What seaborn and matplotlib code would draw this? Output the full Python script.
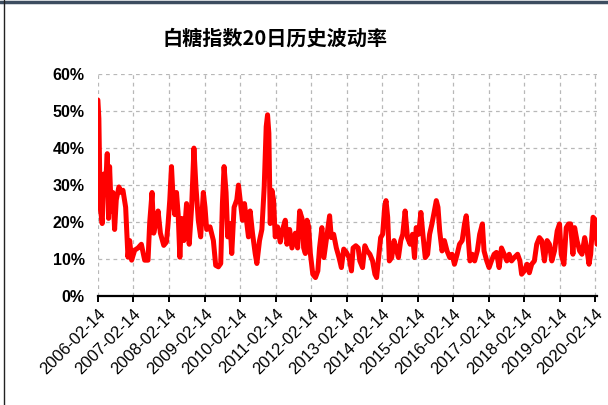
import pandas as pd
import numpy as np
import matplotlib
matplotlib.use("Agg")
import matplotlib.pyplot as plt
from matplotlib.lines import Line2D
import seaborn as sns

# values (decimal year, volatility %)
years = [
    2006.12, 2006.148, 2006.186, 2006.242, 2006.289, 2006.337, 2006.384, 2006.421, 2006.45, 2006.497,
    2006.544, 2006.591, 2006.638, 2006.713, 2006.779, 2006.826, 2006.902, 2006.967, 2007.015, 2007.071,
    2007.156, 2007.25, 2007.344, 2007.438, 2007.532, 2007.58, 2007.645, 2007.692, 2007.768, 2007.815,
    2007.88, 2007.975, 2008.05, 2008.097, 2008.144, 2008.192, 2008.239, 2008.286, 2008.333, 2008.38,
    2008.427, 2008.474, 2008.54, 2008.615, 2008.69, 2008.757, 2008.822, 2008.879, 2008.945, 2009.011,
    2009.086, 2009.133, 2009.18, 2009.274, 2009.369, 2009.434, 2009.51, 2009.576, 2009.623, 2009.67,
    2009.726, 2009.773, 2009.839, 2009.886, 2009.952, 2010.028, 2010.075, 2010.122, 2010.188, 2010.244,
    2010.31, 2010.357, 2010.404, 2010.47, 2010.546, 2010.593, 2010.668, 2010.734, 2010.8, 2010.856,
    2010.894, 2010.931, 2010.969, 2011.016, 2011.063, 2011.11, 2011.176, 2011.252, 2011.318, 2011.393,
    2011.44, 2011.515, 2011.581, 2011.676, 2011.741, 2011.798, 2011.864, 2011.911, 2011.958, 2012.005,
    2012.052, 2012.099, 2012.167, 2012.243, 2012.309, 2012.356, 2012.422, 2012.479, 2012.545, 2012.639,
    2012.687, 2012.753, 2012.828, 2012.904, 2012.97, 2013.036, 2013.111, 2013.187, 2013.253, 2013.3,
    2013.376, 2013.442, 2013.489, 2013.565, 2013.631, 2013.697, 2013.772, 2013.848, 2013.914, 2013.961,
    2014.008, 2014.075, 2014.131, 2014.188, 2014.226, 2014.273, 2014.32, 2014.386, 2014.452, 2014.509,
    2014.575, 2014.641, 2014.698, 2014.764, 2014.83, 2014.906, 2014.972, 2015.028, 2015.076, 2015.142,
    2015.208, 2015.264, 2015.331, 2015.397, 2015.453, 2015.519, 2015.586, 2015.642, 2015.689, 2015.737,
    2015.803, 2015.869, 2015.944, 2016.02, 2016.086, 2016.152, 2016.228, 2016.294, 2016.369, 2016.435,
    2016.483, 2016.53, 2016.587, 2016.652, 2016.719, 2016.794, 2016.86, 2016.936, 2016.983, 2017.059,
    2017.125, 2017.191, 2017.266, 2017.332, 2017.408, 2017.474, 2017.55, 2017.625, 2017.691, 2017.757,
    2017.833, 2017.927, 2017.993, 2018.041, 2018.116, 2018.192, 2018.258, 2018.324, 2018.4, 2018.466,
    2018.541, 2018.607, 2018.683, 2018.758, 2018.824, 2018.891, 2018.966, 2019.042, 2019.108, 2019.155,
    2019.231, 2019.297, 2019.363, 2019.42, 2019.485, 2019.533, 2019.599, 2019.674, 2019.74, 2019.816,
    2019.872, 2019.938, 2019.985, 2020.051, 2020.098, 2020.164,
]
vol = [
    53, 48, 24, 19.6, 33, 30, 38.5, 21, 35, 23,
    28, 18, 26, 29.5, 28, 28.6, 24, 10.5, 15, 9.7,
    12.4, 13, 14, 9.7, 9.7, 20, 28, 17, 20.5, 23,
    17, 13.7, 14.6, 19.6, 26, 35, 26, 22, 28, 22,
    10.5, 21, 15, 25, 14, 24, 40, 29.5, 20.5, 16,
    28, 24, 18, 18.7, 15, 8.3, 7.9, 8.8, 25, 35,
    28, 16, 19.6, 11.5, 24, 26, 30, 26, 20.5, 25,
    19.6, 16, 23, 17, 11.5, 8.8, 15, 18, 29.5, 45.8,
    49, 44, 19.6, 28.6, 26, 16, 18.7, 14.6, 18, 20.5,
    14, 18, 13, 17, 13, 23, 21, 13, 11.5, 20.5,
    18.7, 11.5, 5.9, 5, 6.8, 13, 18.5, 10.4, 15, 21.7,
    15.8, 16.7, 13, 10.4, 7.7, 12.7, 11.8, 10.4, 6.8, 13,
    13.6, 13, 9.5, 7.7, 13.6, 12.2, 11.3, 9.5, 5.9, 5,
    9.5, 15.8, 16.7, 24, 25.8, 21.3, 9.5, 10.4, 15, 13,
    10.4, 15, 16.7, 23, 15.8, 14, 16.7, 10.4, 18.5, 16.7,
    22.6, 16.7, 10.4, 11.3, 16.7, 19.5, 23, 25.8, 24, 17.6,
    12.2, 15, 12.2, 10.4, 11.3, 8.6, 11.3, 14, 15, 19.5,
    21.7, 16.7, 9.5, 11.3, 9.5, 12.2, 16.7, 19.5, 12.2, 9.5,
    7.7, 9.5, 11.3, 11.8, 7.7, 13, 11.3, 9.5, 11.3, 9.5,
    10.4, 11.3, 9.5, 5.9, 6.8, 8.6, 6.3, 8.6, 9.5, 14,
    15.8, 15, 9.5, 15, 14, 9.5, 12.2, 17.6, 19.5, 11.3,
    8.6, 18.5, 19.5, 19.5, 11.3, 18.5, 15, 12.2, 11.3, 15.8,
    13, 8.6, 11.3, 21.3, 20.8, 14,
]
tick_labels = [f"{y}-02-14" for y in range(2006, 2021)]
y_ticks = [0, 10, 20, 30, 40, 50, 60]
title = "白糖指数20日历史波动率"

def to_date(y):
    yr = int(y)
    start = pd.Timestamp(year=yr, month=1, day=1)
    end = pd.Timestamp(year=yr + 1, month=1, day=1)
    return start + (end - start) * (y - yr)

df = pd.DataFrame({"date": [to_date(y) for y in years], "vol": vol})

sns.set_style("white")
plt.rcParams["font.family"] = ["Liberation Sans", "Noto Sans CJK SC", "DejaVu Sans"]

fig = plt.figure(figsize=(6.08, 4.05), dpi=100)
ax = fig.add_axes([0.161, 0.269, 0.821, 0.548])

sns.lineplot(data=df, x="date", y="vol", color="#ff0000", linewidth=3.6, ax=ax)

ticks = pd.to_datetime(tick_labels)
ax.set_xlim(ticks[0], pd.Timestamp("2020-03-01"))
ax.set_ylim(0, 60)
ax.set_xticks(ticks)
ax.set_xticklabels(tick_labels, rotation=45, ha="right", rotation_mode="anchor", fontsize=12, color="black")
ax.set_yticks(y_ticks)
ax.set_yticklabels([f"{v}%" for v in y_ticks], fontsize=11.5, fontweight="bold", color="black")
ax.set_xlabel("")
ax.set_ylabel("")

ax.grid(True, color="#b8b8b8", linestyle=(0, (3, 3)), linewidth=0.9)
for s in ["top", "right", "left"]:
    ax.spines[s].set_visible(False)
ax.spines["bottom"].set_color("black")
ax.spines["bottom"].set_linewidth(1.6)
ax.tick_params(axis="x", bottom=True, length=4, width=1.4, color="black", pad=3)
ax.tick_params(axis="y", left=False, pad=6)

fig.text(0.452, 0.906, title, ha="center", va="center", fontsize=14.5, fontweight="bold",
         color="black", family=["Noto Sans CJK SC", "DejaVu Sans"])

# frame lines of the original screenshot
fig.add_artist(Line2D([0, 1], [0.996, 0.996], color="#3d4d60", linewidth=2.5, transform=fig.transFigure))
fig.add_artist(Line2D([0.0065, 0.0065], [0, 1], color="#222222", linewidth=1.0, transform=fig.transFigure))

fig.savefig("out.png", dpi=100)
